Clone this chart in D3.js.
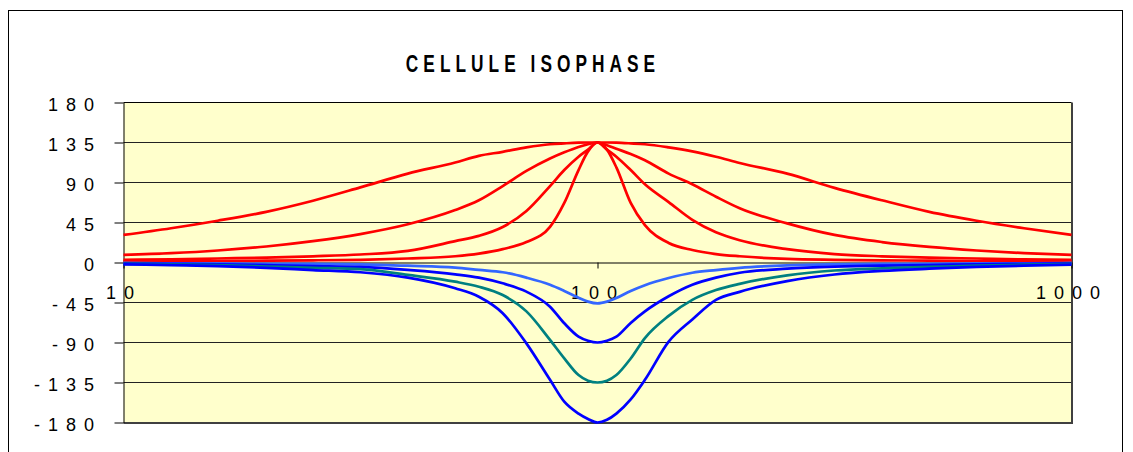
<!DOCTYPE html>
<html>
<head>
<meta charset="utf-8">
<script src="https://cdn.jsdelivr.net/npm/d3@7"></script>
<style>
  html, body { margin: 0; padding: 0; background: #fff; }
  svg { display: block; }
</style>
</head>
<body>
<svg id="chart" width="1133" height="452"></svg>
<script>
// ---- data ----
const title = "CELLULE ISOPHASE";
const freqs = [10, 12.6, 15.8, 20, 25.1, 31.6, 39.8, 50.1, 56.2, 63.1, 70.8, 79.4, 85.1, 91.2, 95.5, 100,
               104.7, 109.6, 117.5, 125.9, 141.3, 158.5, 177.8, 199.5, 251.2, 316.2, 398.1, 501.2, 631, 794.3, 1000];
const yTickValues = [-180, -135, -90, -45, 0, 45, 90, 135, 180];
const xTickValues = [10, 100, 1000];

const redA = [31, 38.5, 47, 57, 69.5, 84.5, 100, 112.5, 120, 124.5, 129.5, 133, 134, 134.8, 135, 135,
              135, 134.8, 134, 133, 129.5, 125, 119, 112, 100, 84, 70, 57, 47, 38.5, 31];
const redB = [8.5, 10.5, 13.5, 18, 24, 32, 43, 59, 70, 86, 103, 117, 124, 130, 133, 135,
              132, 128, 122, 115, 100, 88, 74, 61, 44, 31, 23, 17.5, 13.5, 10.5, 8.5];
const redC = [3, 3.5, 4.5, 5.5, 7, 9, 13, 24, 30, 40, 58, 86, 104, 119, 127, 135,
              127, 119, 104, 88, 68, 48, 34, 25, 15, 9.5, 7, 5.5, 4.5, 3.5, 3];
const redD = [1, 1.2, 1.5, 2, 2.5, 3, 4.5, 7, 10, 15, 23, 40, 67, 104, 125, 135,
              127, 107, 67, 42, 22, 14, 9.5, 7, 4, 3, 2.5, 2, 1.5, 1.2, 1];
const blue45 = [-0.5, -1, -1, -1.5, -1.5, -2, -3.6, -5.8, -8.4, -11, -17, -25, -32, -39.6, -44, -46,
                -44, -40, -32, -25.5, -17.5, -11.5, -8.5, -6, -3.2, -2, -1.5, -1.5, -1, -1, -0.5];
const blue90 = [-1, -1.5, -2, -3, -4, -5, -8.4, -13.3, -17, -23.4, -32.8, -49.7, -68.4, -83.4, -88, -90,
                -88, -83.5, -68, -55, -38, -25, -17, -11.5, -7, -4.7, -3.5, -3, -2, -1.5, -1];
const teal135 = [-1.5, -2, -3, -4.5, -6, -7.5, -14, -21.6, -27.2, -36.6, -55, -87, -107.8, -126.6, -133, -135,
                 -133, -126.6, -108, -85, -60, -42, -31, -24, -14.5, -9, -6.5, -5, -3.5, -2.5, -1.5];
const blue180 = [-2, -3, -4, -6, -8.5, -11, -17, -29, -38.5, -57, -91, -132, -156.6, -170, -176, -180,
                 -177, -170, -154, -132, -89, -64, -42, -33, -21, -13.5, -9.5, -7, -5, -3.5, -2.5];

const seriesValues = [redA, redB, redC, redD, blue45, blue90, teal135, blue180];
const seriesColors = ["#FF0000", "#FF0000", "#FF0000", "#FF0000", "#3366FF", "#0000FF", "#008080", "#0000FF"];

// ---- layout ----
const svg = d3.select("#chart");
const plot = { left: 123.5, right: 1071.5, top: 102.5, bottom: 422.5 };

const x = d3.scaleLog().domain([10, 1000]).range([plot.left, plot.right]);
const y = d3.scaleLinear().domain([-180, 180]).range([plot.bottom, plot.top]);

// outer chart border
svg.append("rect")
  .attr("x", 8.5).attr("y", 10.5).attr("width", 1114).attr("height", 470)
  .attr("fill", "#fff").attr("stroke", "#000").attr("stroke-width", 1);

// plot background
svg.append("rect")
  .attr("x", plot.left).attr("y", plot.top)
  .attr("width", plot.right - plot.left).attr("height", plot.bottom - plot.top)
  .attr("fill", "#FFFFCC");

// gridlines
svg.append("g").selectAll("line")
  .data(yTickValues.filter(v => v !== 0 && v !== -180))
  .join("line")
  .attr("x1", plot.left).attr("x2", plot.right)
  .attr("y1", d => y(d)).attr("y2", d => y(d))
  .attr("stroke", d => d === 180 ? "#000" : "#222").attr("stroke-width", 1);

// plot border (right and bottom darker/thicker)
svg.append("line").attr("x1", plot.right + 0.5).attr("x2", plot.right + 0.5)
  .attr("y1", plot.top).attr("y2", plot.bottom + 1)
  .attr("stroke", "#404040").attr("stroke-width", 2);
svg.append("line").attr("x1", plot.left).attr("x2", plot.right + 1.5)
  .attr("y1", plot.bottom + 0.5).attr("y2", plot.bottom + 0.5)
  .attr("stroke", "#404040").attr("stroke-width", 2);

const labelFont = "'Liberation Sans', Arial, sans-serif";

// y axis
const yAxis = d3.axisLeft(y).tickValues(yTickValues).tickSize(9).tickSizeOuter(0)
  .tickPadding(12.5).tickFormat(d => String(d));
const gy = svg.append("g").attr("transform", `translate(${plot.left},0)`).call(yAxis);
gy.select(".domain").attr("stroke", "#000");
gy.selectAll(".tick line").attr("stroke", "#000");
gy.selectAll(".tick text")
  .attr("font-family", labelFont).attr("font-size", 18)
  .attr("letter-spacing", "8px").attr("fill", "#000")
  .attr("dy", "0.43em");

// x axis at y = 0
const xAxis = d3.axisBottom(x).tickValues(xTickValues).tickSize(6).tickSizeOuter(0)
  .tickPadding(17.8).tickFormat(d3.format("d"));
const gx = svg.append("g").attr("transform", `translate(0,${y(0)})`).call(xAxis);
gx.select(".domain").attr("stroke", "#000");
gx.selectAll(".tick line").attr("stroke", "#000");
gx.selectAll(".tick text")
  .attr("font-family", labelFont).attr("font-size", 18)
  .attr("letter-spacing", "8px").attr("fill", "#000");

// curves
const line = d3.line()
  .x((d, i) => x(freqs[i]))
  .y(d => y(d))
  .curve(d3.curveMonotoneX);

svg.append("g").selectAll("path")
  .data(seriesValues)
  .join("path")
  .attr("d", d => line(d))
  .attr("fill", "none")
  .attr("stroke", (d, i) => seriesColors[i])
  .attr("stroke-width", 2.7)
  .attr("stroke-linejoin", "round");

// title
svg.append("text")
  .attr("transform", "translate(533,72) scale(0.72,1)")
  .attr("text-anchor", "middle")
  .attr("font-family", labelFont)
  .attr("font-weight", "bold")
  .attr("font-size", 24)
  .attr("letter-spacing", "7px")
  .attr("fill", "#000")
  .text(title);
</script>
</body>
</html>
